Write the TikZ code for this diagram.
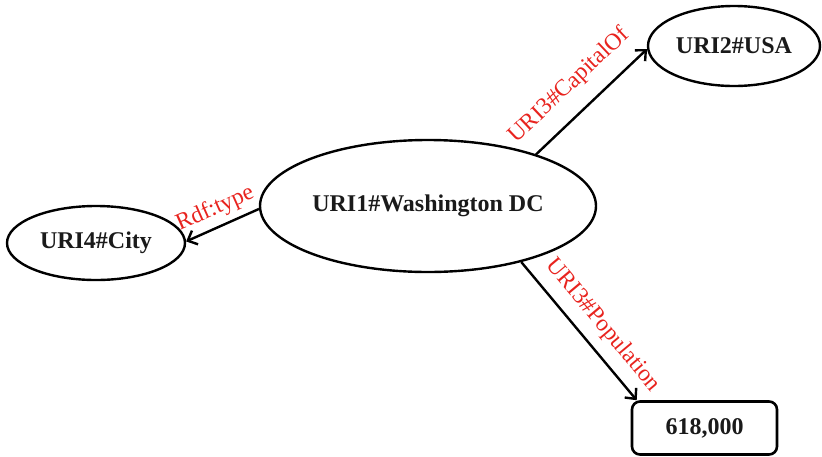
\documentclass[tikz,border=0pt]{standalone}
\usepackage{fontspec}
\setmainfont{Liberation Serif}
\usetikzlibrary{shapes.geometric,arrows.meta,positioning}
\definecolor{lblred}{HTML}{E8231E}
\definecolor{txtblack}{HTML}{1A1A1A}
\tikzset{
  entity/.style={ellipse, draw=black, line width=2.4pt, inner sep=0pt,
    font=\fontsize{24}{28}\selectfont\bfseries, text=txtblack},
  literal/.style={rectangle, rounded corners=8pt, draw=black, line width=2.6pt, inner sep=0pt,
    font=\fontsize{24}{28}\selectfont\bfseries, text=txtblack},
  rel/.style={line width=2.4pt, -{Straight Barb[length=8pt,width=15pt]}},
  rellabel/.style={font=\fontsize{23.5}{27}\selectfont, text=lblred, sloped, inner sep=4pt}
}
\begin{document}
\begin{tikzpicture}[x=1pt,y=-1pt]
\useasboundingbox (0,0) rectangle (822,456);
\node[entity, minimum width=336pt, minimum height=132pt] (c) at (428,206) {URI1\#Washington DC};
\node[entity, minimum width=172pt, minimum height=80pt] (usa) at (734,46) {URI2\#USA};
\node[entity, minimum width=178pt, minimum height=74pt] (city) at (96,243) {URI4\#City};
\node[literal, minimum width=145pt, minimum height=53pt] (pop) at (704.5,428) {618,000};
\draw[rel] ([xshift=6pt,yshift=-3pt]c.28) -- node[rellabel, above=11pt, pos=0.47] {URI3\#CapitalOf} (usa.182);
\draw[rel] (c.181) -- node[rellabel, above=2pt, pos=0.5] {Rdf:type} (city.1);
\draw[rel] (c.-31) -- node[rellabel, above=6pt, pos=0.56] {URI3\#Population} ([xshift=6pt]pop.north west);
\end{tikzpicture}
\end{document}
